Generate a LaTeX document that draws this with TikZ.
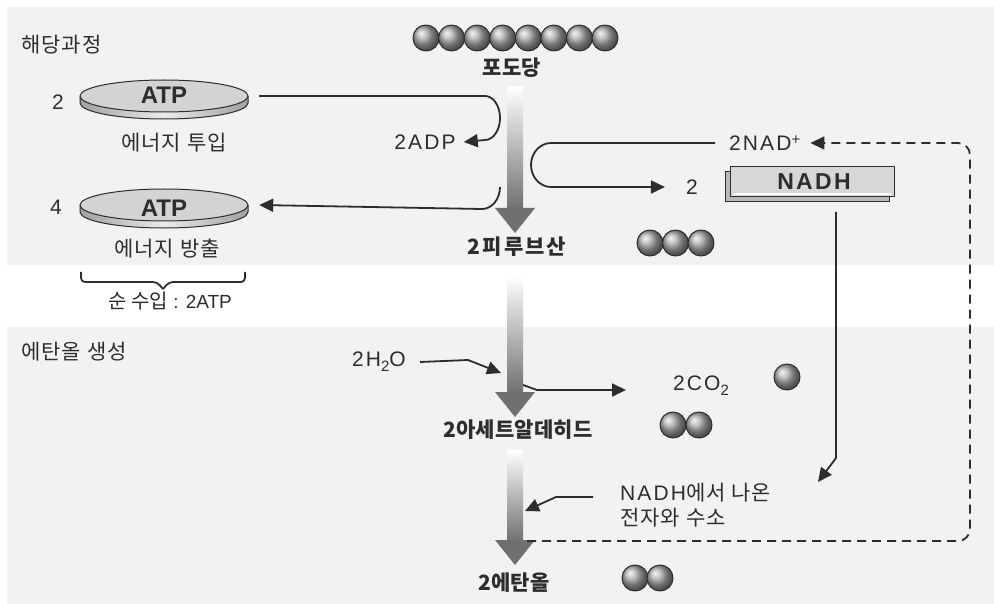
\documentclass[tikz,border=0pt]{standalone}
\usepackage{fontspec}
\setmainfont{Liberation Sans}
\newfontfamily\kr{Noto Sans CJK KR}[LetterSpace=5]
\newfontfamily\krb{Noto Sans CJK KR}[LetterSpace=1]
\newfontfamily\krw{Noto Sans CJK KR}[LetterSpace=10]
\newfontfamily\lsp{Liberation Sans}[LetterSpace=10]
\usetikzlibrary{arrows.meta,calc}
\definecolor{panel}{RGB}{241,242,244}
\definecolor{ink}{RGB}{45,45,45}
\definecolor{arrowgray}{RGB}{112,112,114}
\definecolor{diskgray}{RGB}{210,211,213}
\definecolor{boxgray}{RGB}{214,215,217}
\tikzset{
  lbl/.style={inner sep=0pt, text=ink, font=\kr\fontsize{21}{24}\selectfont},
  klbl/.style={inner sep=0pt, text=ink, font=\krb\bfseries\fontsize{21}{22}\selectfont},
  lat/.style={inner sep=0pt, text=ink, font=\lsp\fontsize{21}{22}\selectfont},
  latb/.style={inner sep=0pt, text=ink, font=\bfseries\fontsize{24}{24}\selectfont},
  conn/.style={draw=ink, line width=1.8pt, -{Triangle[length=14pt,width=13pt]}},
  dconn/.style={conn, dash pattern=on 9pt off 6pt},
  disknode/.style={minimum width=168pt, minimum height=32pt, inner sep=0pt},
}
% one glossy sphere (a carbon atom)
\newcommand\atom[1]{%
  \shade[ball color=gray!65] #1 circle (13);
  \draw[ink, line width=1pt] #1 circle (13);}
% a coin-shaped ATP disk around a named point
\newcommand\atpdisk[1]{%
  \shade[left color=gray!75, right color=gray!75, middle color=gray!15]
    ($(#1)+(-84,0)$) -- ++(0,7) arc[start angle=180, end angle=0, x radius=84, y radius=16]
    -- ++(0,-7) arc[start angle=0, end angle=180, x radius=84, y radius=16] -- cycle;
  \draw[ink, line width=1pt]
    ($(#1)+(-84,0)$) -- ++(0,7) arc[start angle=180, end angle=0, x radius=84, y radius=16]
    -- ++(0,-7);
  \filldraw[fill=diskgray, draw=ink, line width=1pt] (#1) ellipse[x radius=84, y radius=16];}
% broad shaded process arrow: x, shaft top, head top, tip
\newcommand\flow[4]{%
  \shade[top color=white, bottom color=arrowgray] (#1-8,#2) rectangle (#1+8,#3+1);
  \fill[arrowgray] (#1-20,#3) -- (#1+20,#3) -- (#1,#4) -- cycle;}
\begin{document}
\begin{tikzpicture}[x=1pt, y=-1pt, line join=round]
\useasboundingbox (0,0) rectangle (994,604);
\fill[white] (0,0) rectangle (994,604);
\fill[panel] (7,7) rectangle (994,265);
\fill[panel] (7,327) rectangle (994,604);

% section titles
\node[lbl, anchor=west] (glyTitle) at (21,45) {해당과정};
\node[lbl, anchor=west] (ethTitle) at (21,352) {에탄올 생성};

% main pathway arrows
\flow{515}{87}{208}{233}
\flow{515}{276}{392}{417}
\flow{515}{450}{540}{565}

% glucose chain
\foreach \i in {0,...,7} {\atom{(426+25.57*\i,38)}}
\node[klbl] (glc) at (512,68) {포도당};

% pyruvate
\node[klbl, font=\krw\bfseries\fontsize{21}{22}\selectfont] (pyr) at (517,247) {2피루브산};
\foreach \i in {0,1,2} {\atom{(650+25.5*\i,243)}}

% ATP disks
\coordinate (d1) at (164,96);
\coordinate (d2) at (164,205);
\atpdisk{d1}
\atpdisk{d2}
\node[disknode] (atp1) at (d1) {};
\node[disknode] (atp2) at (d2) {};
\node[latb] (atp1t) at (164,95.5) {ATP};
\node[latb] (atp2t) at (164,208) {ATP};
\node[lat, font=\fontsize{21}{22}\selectfont] (n2) at (58,102.5) {2};
\node[lat, font=\fontsize{21}{22}\selectfont] (n4) at (56,207) {4};
\node[lbl] (inv) at (174,143) {에너지 투입};
\node[lbl] (rel) at (167,249) {에너지 방출};

% net gain brace
\draw[ink, line width=1.8pt, rounded corners=4pt]
  (81,272) -- (81,282) -- (157,282) -- (163,289);
\draw[ink, line width=1.8pt, rounded corners=4pt]
  (245,272) -- (245,282) -- (169,282) -- (163,289);
\node[inner sep=0pt, text=ink] (net) at (170,301)
  {{\krb\fontsize{20}{22}\selectfont 순 수입}\fontsize{19}{22}\selectfont{ : }2ATP};

% ATP investment and release
\node[lat] (adp) at (425,142) {2ADP};
\draw[conn] ([xshift=11pt]atp1.east |- d1) -- (485,96)
  arc[start angle=-90, end angle=90, x radius=15, y radius=22] -- ([xshift=8pt]adp.east);
\coordinate (relStart) at (500,187);
\draw[conn] (relStart) arc[start angle=0, end angle=90, x radius=18, y radius=22]
  -- ([xshift=11pt]atp2.east |- d2);

% NAD+ / NADH
\node[lat, anchor=west] (nad) at (729,143) {2NAD\raisebox{0.55ex}{\fontsize{15}{15}\selectfont +}};
\node[lat] (two) at (692,187) {2};
\fill[gray!55] (725,172) rectangle (889,202);
\draw[ink, line width=1pt] (725,172) rectangle (889,202);
\fill[boxgray] (730,167) rectangle (894,197);
\draw[white, line width=1.2pt] (733,194) -- (891,194);
\draw[ink, line width=1pt] (730,167) rectangle (894,197);
\node[inner sep=0pt, text=ink, font=\lsp\bfseries\fontsize{23}{24}\selectfont] (nadh) at (814,182) {NADH};
\draw[conn] ([xshift=-14pt]nad.west) -- (551,143)
  arc[start angle=270, end angle=90, x radius=20, y radius=22] -- ([xshift=-21pt]two.west);

% hydrogen from NADH to ethanol step
\coordinate (nadhDown) at (836,212);
\coordinate (nadhTip) at (818,482);
\node[lat, anchor=west] (eh1) at (620,493) {NADH{\kr 에서 나온}};
\node[lbl, anchor=west] (eh2) at (620,518) {전자와 수소};
\draw[conn] (nadhDown) -- (836,458) -- (nadhTip);

% recycling of NAD+
\coordinate (ethDash) at (527,541);
\draw[dconn, rounded corners=12pt] (ethDash) -- (970,541) -- (970,143)
  -- ([xshift=10pt]nad.east);

% water, carbon dioxide
\node[lat, anchor=west] (h2o) at (352,362) {2H\raisebox{-0.45ex}{\fontsize{15}{15}\selectfont 2}O};
\coordinate (h2oIn) at (501,373);
\draw[conn] ([xshift=14pt]h2o.east) -- (468,360) -- (h2oIn);
\node[lat, anchor=west] (co2) at (673,386) {2CO\raisebox{-0.45ex}{\fontsize{15}{15}\selectfont 2}};
\coordinate (co2Out) at (523,385);
\draw[conn] (co2Out) -- (537,390) -- ([xshift=-47pt]co2.west |- 0,390);
\atom{(787,377)}

% acetaldehyde
\node[klbl] (ald) at (518,430) {2아세트알데히드};
\atom{(673,425)} \atom{(699,425)}

% electrons into ethanol step
\coordinate (ehIn) at (525,511);
\draw[conn] ([xshift=-27pt]eh1.west |- 0,497) -- (556,497) -- (ehIn);

% ethanol
\node[klbl] (eth) at (514,583) {2에탄올};
\atom{(635,578)} \atom{(660,578)}
\end{tikzpicture}
\end{document}
